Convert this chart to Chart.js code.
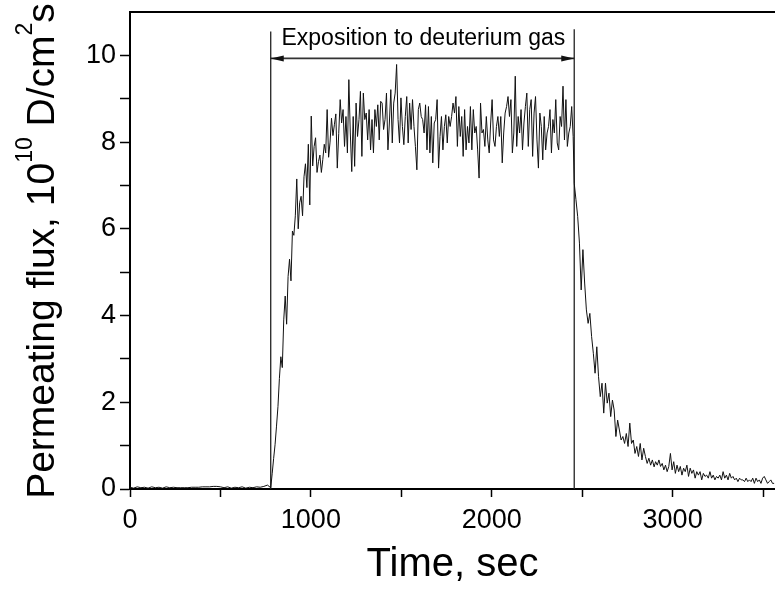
<!DOCTYPE html>
<html>
<head>
<meta charset="utf-8">
<script src="https://cdn.jsdelivr.net/npm/chart.js@4.4.1/dist/chart.umd.min.js"></script>
<style>
  html, body { margin: 0; padding: 0; background: #fff; overflow: hidden; }
  #wrap { width: 775px; height: 589px; }
</style>
</head>
<body>
<div id="wrap"><canvas id="fluxChart" width="775" height="589"></canvas></div>
<script>
// ===============================
// DATA
// ===============================
// each segment: start time (s), sample step (s), flux values (10^10 D/cm^2 s)
const baseStart = 0, baseStep = 20;
const baseFlux = [0.04, 0.02, 0.05, 0.03, 0.04, 0.02, 0.05, 0.03, 0.04, 0.02,
  0.05, 0.03, 0.04, 0.03, 0.03, 0.03, 0.03, 0.04, 0.04, 0.04,
  0.05, 0.05, 0.05, 0.06, 0.06, 0.05, 0.03, 0.05, 0.02, 0.04,
  0.03, 0.05, 0.02, 0.04, 0.03, 0.05, 0.04, 0.06, 0.09];

const riseStart = 778, riseStep = 8;
const riseFlux = [0.03, 0.35, 0.70, 1.02, 1.45, 1.90, 2.55, 3.05, 2.80, 3.90,
  4.45, 3.80, 4.90, 5.30, 4.80, 5.95, 5.85, 6.30, 7.15, 6.00,
  6.60, 6.75, 6.30, 7.20, 7.50, 6.95, 7.95, 6.55, 8.60, 7.45,
  7.90, 8.10, 7.30, 7.55, 7.70, 7.30, 7.60, 7.95, 7.75, 8.75,
  7.65, 8.00, 8.55, 8.15, 8.40, 8.65, 7.40, 8.20];

const plateauStart = 1162, plateauStep = 8;
const plateauFlux = [8.98, 8.44, 8.75, 7.90, 8.59, 7.75, 9.44, 8.21, 7.32, 8.59,
  7.44, 8.90, 8.13, 8.52, 9.17, 7.67, 9.13, 8.52, 8.67, 8.05,
  8.75, 7.82, 8.52, 7.75, 8.75, 8.36, 8.86, 8.05, 8.94, 8.90,
  8.29, 8.52, 9.13, 7.82, 8.44, 9.21, 7.98, 8.90, 9.13, 9.79,
  8.52, 7.98, 9.02, 8.36, 7.94, 8.59, 9.05, 7.98, 8.90, 8.29,
  8.98, 8.36, 7.90, 7.36, 8.75, 8.90, 8.59, 8.52, 8.21, 8.86,
  7.82, 8.82, 7.75, 8.59, 7.52, 8.44, 8.52, 8.98, 7.40, 8.13,
  8.59, 7.82, 8.36, 8.63, 7.98, 8.59, 8.36, 8.59, 8.90, 8.67,
  9.05, 7.90, 8.82, 8.13, 8.59, 7.67, 8.75, 7.82, 8.36, 7.98,
  8.82, 7.82, 8.75, 8.21, 8.36, 7.82, 7.17, 8.90, 8.21, 8.29,
  7.90, 8.59, 8.05, 7.75, 8.44, 8.98, 8.05, 7.90, 8.36, 8.59,
  8.13, 8.59, 7.52, 8.21, 8.67, 8.82, 9.05, 8.59, 8.98, 7.75,
  8.21, 9.52, 7.90, 8.59, 8.21, 8.75, 7.82, 8.44, 8.82, 9.13,
  7.90, 8.75, 8.98, 7.67, 8.67, 9.05, 8.05, 7.40, 8.67, 8.36,
  7.59, 8.59, 7.82, 8.21, 8.36, 8.75, 7.75, 8.52, 8.21, 8.98,
  7.98, 7.82, 8.59, 8.36, 9.29, 8.05, 8.98, 7.90, 8.21, 8.36,
  8.82, 8.13];

const decayStart = 2456, decayStep = 9.6;
const decayFlux = [7.05, 6.67, 6.28, 5.67, 4.59, 5.52, 4.75, 4.13, 3.82, 4.05,
  3.52, 3.13, 2.67, 3.28, 2.59, 2.13, 2.44, 1.75, 2.44, 1.98,
  2.21, 1.67, 2.05, 1.82, 1.21, 1.59, 1.36, 1.13, 1.21, 1.05,
  1.28, 0.98, 1.52, 1.05, 1.13, 0.82, 0.98, 0.75, 1.05, 0.67,
  0.94, 0.75, 0.59, 0.71, 0.55, 0.67, 0.51];

const tailStart = 2906, tailStep = 9.1;
const tailFlux = [0.63, 0.55, 0.67, 0.52, 0.59, 0.44, 0.55, 0.40, 0.52, 0.82,
  0.44, 0.63, 0.36, 0.55, 0.40, 0.52, 0.32, 0.48, 0.40, 0.55,
  0.29, 0.48, 0.36, 0.44, 0.25, 0.40, 0.32, 0.40, 0.21, 0.36,
  0.29, 0.32, 0.25, 0.40, 0.25, 0.32, 0.21, 0.29, 0.25, 0.32,
  0.21, 0.40, 0.25, 0.32, 0.21, 0.36, 0.25, 0.29, 0.21, 0.25,
  0.17, 0.25, 0.21, 0.21, 0.17, 0.25, 0.17, 0.21, 0.17, 0.25,
  0.13, 0.25, 0.17, 0.21, 0.13, 0.25, 0.29, 0.21, 0.13, 0.17,
  0.21, 0.13, 0.13];

// exposure markers: gas in / gas out
const markerTimes = [778, 2456];
const markerTops = [10.55, 10.6];
const arrowLevel = 9.93;
const labelTime = 1622;
const labelLevel = 10.25;
const exposureLabel = "Exposition to deuterium gas";

// axes
const xMin = 0, xMax = 3566;
const yMin = 0, yMax = 11;
const xTickValues = [0, 500, 1000, 1500, 2000, 2500, 3000, 3500];
const xLabelValues = [0, 1000, 2000, 3000];
const yTickValues = [0, 1, 2, 3, 4, 5, 6, 7, 8, 9, 10];
const yLabelValues = [0, 2, 4, 6, 8, 10];
const xTitle = "Time, sec";
// y title pieces: [text, superscript?]
const yTitleParts = [
  ["Permeating flux, 10", false],
  ["10", true],
  [" D/cm", false],
  ["2", true],
  ["s", false],
];

// ===============================
// BUILD SERIES
// ===============================
function segment(start, step, values) {
  return values.map((v, i) => ({ x: start + i * step, y: v }));
}

const fluxPoints = [
  ...segment(baseStart, baseStep, baseFlux),
  ...segment(riseStart, riseStep, riseFlux),
  ...segment(plateauStart, plateauStep, plateauFlux),
  ...segment(decayStart, decayStep, decayFlux),
  ...segment(tailStart, tailStep, tailFlux),
];

const FONT = '"Liberation Sans", Arial, sans-serif';

// ===============================
// EXTRA DRAWING (frame, arrow heads, texts)
// ===============================
const decor = {
  id: "decor",
  afterDatasetsDraw(chart) {
    const { ctx, chartArea, scales } = chart;
    const x = scales.x, y = scales.y;
    ctx.save();

    // top frame line
    ctx.strokeStyle = "#000";
    ctx.lineWidth = 2;
    ctx.beginPath();
    ctx.moveTo(chartArea.left - 1, chartArea.top);
    ctx.lineTo(chartArea.right, chartArea.top);
    ctx.stroke();

    // arrow heads
    const ya = y.getPixelForValue(arrowLevel);
    const xl = x.getPixelForValue(markerTimes[0]);
    const xr = x.getPixelForValue(markerTimes[1]);
    ctx.fillStyle = "#111";
    ctx.beginPath();
    ctx.moveTo(xl, ya);
    ctx.lineTo(xl + 13, ya - 3);
    ctx.lineTo(xl + 13, ya + 3);
    ctx.closePath();
    ctx.fill();
    ctx.beginPath();
    ctx.moveTo(xr, ya);
    ctx.lineTo(xr - 13, ya - 3);
    ctx.lineTo(xr - 13, ya + 3);
    ctx.closePath();
    ctx.fill();

    // exposure label
    ctx.fillStyle = "#000";
    ctx.font = "23px " + FONT;
    ctx.textAlign = "center";
    ctx.textBaseline = "alphabetic";
    ctx.fillText(exposureLabel, x.getPixelForValue(labelTime), y.getPixelForValue(labelLevel));

    // y axis title with superscripts
    const bigFont = "39px " + FONT;
    const supFont = "23px " + FONT;
    let total = 0;
    yTitleParts.forEach(([t, sup]) => {
      ctx.font = sup ? supFont : bigFont;
      total += ctx.measureText(t).width;
    });
    ctx.translate(54, 251);
    ctx.rotate(-Math.PI / 2);
    ctx.textAlign = "left";
    let pos = -total / 2;
    yTitleParts.forEach(([t, sup]) => {
      ctx.font = sup ? supFont : bigFont;
      ctx.fillText(t, pos, sup ? -22 : 0);
      pos += ctx.measureText(t).width;
    });

    ctx.restore();
  },
};

// ===============================
// CHART
// ===============================
const canvas = document.getElementById("fluxChart");

new Chart(canvas, {
  type: "line",
  data: {
    datasets: [
      {
        data: fluxPoints,
        borderColor: "#111",
        borderWidth: 1,
        pointRadius: 0,
        tension: 0,
      },
      {
        data: [{ x: markerTimes[0], y: 0 }, { x: markerTimes[0], y: markerTops[0] }],
        borderColor: "#222",
        borderWidth: 1.3,
        pointRadius: 0,
      },
      {
        data: [{ x: markerTimes[1], y: 0 }, { x: markerTimes[1], y: markerTops[1] }],
        borderColor: "#222",
        borderWidth: 1.3,
        pointRadius: 0,
      },
      {
        data: [{ x: markerTimes[0], y: arrowLevel }, { x: markerTimes[1], y: arrowLevel }],
        borderColor: "#333",
        borderWidth: 1.6,
        pointRadius: 0,
      },
    ],
  },
  options: {
    responsive: false,
    animation: false,
    devicePixelRatio: 1,
    layout: { padding: { top: 12, left: 0, right: 0, bottom: 0 } },
    plugins: {
      legend: { display: false },
      tooltip: { enabled: false },
    },
    scales: {
      x: {
        type: "linear",
        min: xMin,
        max: xMax,
        afterBuildTicks: (scale) => {
          scale.ticks = xTickValues.map((v) => ({ value: v }));
        },
        afterFit: (scale) => {
          scale.height = 100;
          scale.paddingLeft = 0;
          scale.paddingRight = 0;
        },
        ticks: {
          autoSkip: false,
          maxRotation: 0,
          padding: 10,
          color: "#000",
          font: { family: FONT, size: 27, lineHeight: 1 },
          callback: (v) => (xLabelValues.includes(v) ? String(v) : ""),
        },
        grid: {
          drawOnChartArea: false,
          drawTicks: true,
          tickLength: 8,
          tickWidth: 1.5,
          tickColor: "#000",
        },
        border: { color: "#000", width: 2 },
        title: {
          display: true,
          text: xTitle,
          color: "#000",
          font: { family: FONT, size: 40 },
          padding: { top: 0, bottom: 0 },
        },
      },
      y: {
        type: "linear",
        min: yMin,
        max: yMax,
        afterBuildTicks: (scale) => {
          scale.ticks = yTickValues.map((v) => ({ value: v }));
        },
        afterFit: (scale) => {
          scale.width = 130;
          scale.paddingTop = 0;
          scale.paddingBottom = 0;
        },
        ticks: {
          autoSkip: false,
          padding: 4,
          color: "#000",
          font: { family: FONT, size: 27, lineHeight: 1 },
          callback: (v) => (yLabelValues.includes(v) ? String(v) : ""),
        },
        grid: {
          drawOnChartArea: false,
          drawTicks: true,
          tickLength: 10,
          tickWidth: 1.5,
          tickColor: "#000",
        },
        border: { color: "#000", width: 2 },
        title: { display: false },
      },
    },
  },
  plugins: [decor],
});
</script>
</body>
</html>
